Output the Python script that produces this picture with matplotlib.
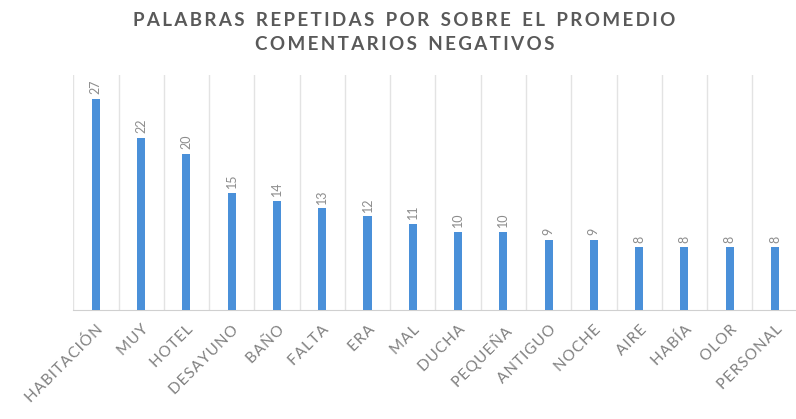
import matplotlib.pyplot as plt

palabras = ['HABITACIÓN', 'MUY', 'HOTEL', 'DESAYUNO', 'BAÑO', 'FALTA', 'ERA', 'MAL',
            'DUCHA', 'PEQUEÑA', 'ANTIGUO', 'NOCHE', 'AIRE', 'HABÍA', 'OLOR', 'PERSONAL']
frecuencia = [27, 22, 20, 15, 14, 13, 12, 11, 10, 10, 9, 9, 8, 8, 8, 8]

titulo = ['PALABRAS REPETIDAS POR SOBRE EL PROMEDIO', 'COMENTARIOS NEGATIVOS']

plt.rcParams['font.family'] = ['Lato', 'DejaVu Sans']


def espaciar(s, sep, sep_palabra=' '):
    # separa las letras para imitar el espaciado del original
    return sep_palabra.join(sep.join(p) for p in s.split(' '))


fig = plt.figure(figsize=(7.96, 4.19), dpi=100)
ax = fig.add_axes([0.092, 0.26, 0.91, 0.56])

x = range(len(palabras))
ax.bar(x, frecuencia, width=0.18, color='#4a90d9', zorder=3)

for i, v in enumerate(frecuencia):
    ax.text(i, v + 0.6, str(v), rotation=90, ha='center', va='bottom',
            color='#8c8c8c', fontsize=9)

# lineas verticales entre categorias
for b in range(len(palabras) + 1):
    ax.axvline(b - 0.5, color='#e3e3e3', linewidth=1, zorder=1)

ax.set_xlim(-0.5, len(palabras) - 0.5)
ax.set_ylim(0, 30)
ax.set_yticks([])
ax.set_xticks(list(x))
ax.set_xticklabels([espaciar(p, '\u200a') for p in palabras], rotation=45, ha='right',
                   rotation_mode='anchor', color='#808080', fontsize=11)
ax.tick_params(axis='x', length=0, pad=9)
for s in ['top', 'right', 'left']:
    ax.spines[s].set_visible(False)
ax.spines['bottom'].set_color('#d0d0d0')

fig.text(0.508, 0.972, '\n'.join(espaciar(t, '\u2009', ' \u2009 ') for t in titulo),
         ha='center', va='top', fontsize=13.5, fontweight='bold', color='#595959',
         linespacing=1.5)

plt.savefig('out.png')
